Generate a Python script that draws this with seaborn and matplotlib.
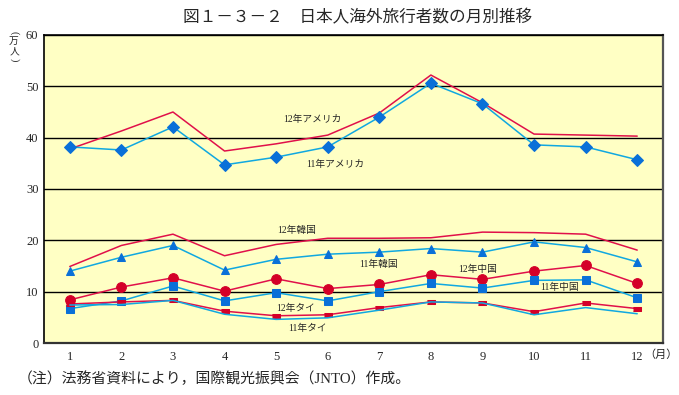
import numpy as np
import pandas as pd
import seaborn as sns
import matplotlib.pyplot as plt
from matplotlib.ticker import FixedLocator

months = list(range(1, 13))

usa_11 = [38.2, 37.6, 42.1, 34.7, 36.2, 38.2, 44.0, 50.6, 46.6, 38.6, 38.2, 35.7]
usa_12 = [37.8, 41.3, 45.0, 37.4, 38.8, 40.5, 44.8, 52.2, 46.8, 40.7, 40.5, 40.3]
kor_12 = [14.9, 19.0, 21.2, 17.0, 19.2, 20.4, 20.4, 20.5, 21.6, 21.5, 21.2, 18.1]
kor_11 = [14.0, 16.7, 19.0, 14.2, 16.3, 17.3, 17.7, 18.4, 17.7, 19.7, 18.6, 15.8]
chn_12 = [8.4, 10.9, 12.7, 10.1, 12.5, 10.6, 11.4, 13.3, 12.4, 14.0, 15.1, 11.6]
chn_11 = [6.7, 8.2, 11.1, 8.2, 9.8, 8.2, 10.0, 11.6, 10.7, 12.2, 12.3, 8.8]
tha_12 = [7.6, 8.0, 8.3, 6.2, 5.3, 5.5, 6.9, 8.0, 7.8, 6.1, 7.8, 6.7]
tha_11 = [7.4, 7.5, 8.3, 5.6, 4.6, 4.9, 6.4, 8.0, 7.8, 5.5, 6.9, 5.7]

labels = ["12年アメリカ", "11年アメリカ", "12年韓国", "11年韓国",
          "12年中国", "11年中国", "12年タイ", "11年タイ"]
label_pos = [(5.7, 43.6), (6.15, 34.7), (5.4, 22.0), (6.98, 15.4),
             (8.9, 14.4), (10.5, 10.9), (5.37, 6.8), (5.6, 2.9)]

title = "図１－３－２　日本人海外旅行者数の月別推移"
note = "（注）法務省資料により，国際観光振興会（JNTO）作成。"

sns.set_style("white")
plt.rcParams['font.family'] = ['Liberation Serif', 'Noto Sans CJK JP']

RED = "#e0104a"
RED_M = "#d40028"
BLUE = "#10a8e0"
BLUE_M = "#0a70d8"
rect = [(-1, -0.55), (1, -0.55), (1, 0.55), (-1, 0.55)]

fig = plt.figure(figsize=(6.79, 3.95), dpi=100)
ax = fig.add_axes([44 / 679, 52 / 395, 619 / 679, 308 / 395])
ax.set_facecolor("#ffffc4")

series = [
    (usa_12, RED, None, 0, RED_M),
    (usa_11, BLUE, "D", 6, BLUE_M),
    (kor_12, RED, None, 0, RED_M),
    (kor_11, BLUE, "^", 5.5, BLUE_M),
    (chn_12, RED, "o", 7, RED_M),
    (chn_11, BLUE, "s", 6, BLUE_M),
    (tha_12, RED, rect, 6, RED_M),
    (tha_11, BLUE, None, 0, BLUE_M),
]

for vals, col, mk, ms, mcol in series:
    df = pd.DataFrame({"month": months, "value": vals})
    sns.lineplot(data=df, x="month", y="value", ax=ax, color=col, lw=1.1,
                 marker=mk, markersize=ms, markerfacecolor=mcol,
                 markeredgecolor=mcol, zorder=3)

for txt, (x, y) in zip(labels, label_pos):
    ax.text(x, y, txt, fontsize=7, ha="center", va="center", zorder=4)

ax.set_xlim(0.5, 12.5)
ax.set_ylim(0, 60)
ax.set_yticks(range(0, 61, 10))
ax.set_xticks(months)
ax.xaxis.set_minor_locator(FixedLocator(np.arange(1.5, 12, 1)))
ax.tick_params(axis="x", which="major", length=0, pad=6, labelsize=9)
ax.tick_params(axis="x", which="minor", direction="in", length=5, width=1, color="black")
ax.tick_params(axis="y", length=0, pad=4, labelsize=9)
ax.grid(axis="y", color="black", lw=1)
ax.set_axisbelow(True)
ax.set_xlabel("")
ax.set_ylabel("")
for s in ax.spines.values():
    s.set_color("black")
    s.set_linewidth(1.2)
ax.spines["right"].set_color("#555555")
ax.spines["bottom"].set_color("#333333")
ax.spines["right"].set_linewidth(1.6)
ax.spines["bottom"].set_linewidth(1.6)

fig.text(358 / 679, 1 - 18 / 395, title, fontsize=12, ha="center", va="center")

# vertical unit label (万人)
unit_x = 14 / 679
fig.text(unit_x, 1 - 33 / 395, "(", fontsize=7.5, rotation=-90, ha="center",
         va="center", family="Liberation Serif")
fig.text(unit_x, 1 - 41.5 / 395, "万", fontsize=7, ha="center", va="center")
fig.text(unit_x, 1 - 51.5 / 395, "人", fontsize=7, ha="center", va="center")
fig.text(unit_x, 1 - 60 / 395, ")", fontsize=7.5, rotation=-90, ha="center",
         va="center", family="Liberation Serif")

fig.text(644 / 679, 1 - 355 / 395, "（月）", fontsize=8, ha="left", va="center")
fig.text(18 / 679, 1 - 379 / 395, note, fontsize=10.7, ha="left", va="center")

fig.savefig("out.png", dpi=100)
